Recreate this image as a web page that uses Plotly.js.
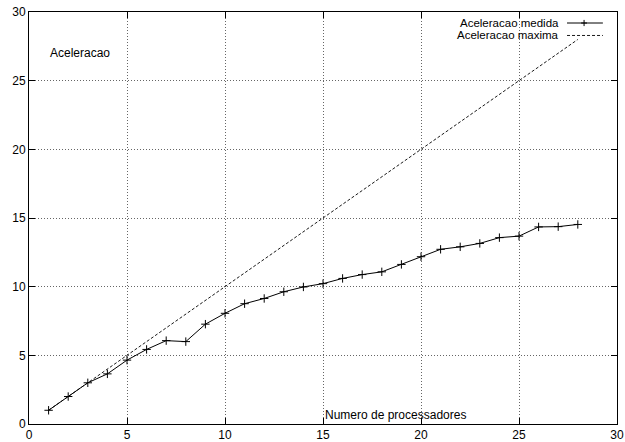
<!DOCTYPE html>
<html>
<head>
<meta charset="utf-8">
<script src="https://cdn.plot.ly/plotly-3.0.1.min.js"></script>
<style>
  html, body { margin: 0; padding: 0; background: #fff; }
  #chart { width: 625px; height: 442px; }
</style>
</head>
<body>
<div id="chart"></div>
<script>
// Speedup measured against number of processors
const processadores = [1, 2, 3, 4, 5, 6, 7, 8, 9, 10, 11, 12, 13, 14, 15, 16, 17, 18, 19, 20, 21, 22, 23, 24, 25, 26, 27, 28];
const aceleracaoMedida = [1.0, 2.0, 3.0, 3.65, 4.65, 5.43, 6.07, 6.0, 7.27, 8.06, 8.76, 9.14, 9.63, 9.98, 10.22, 10.6, 10.88, 11.08, 11.62, 12.18, 12.72, 12.9, 13.15, 13.57, 13.68, 14.35, 14.37, 14.53];
// Ideal (linear) speedup
const procMax = [1, 28];
const aceleracaoMaxima = [1, 28];

const tickVals = [0, 5, 10, 15, 20, 25, 30];

const legendaMedida = 'Aceleracao medida';
const legendaMaxima = 'Aceleracao maxima';
const rotuloY = 'Aceleracao';
const rotuloX = 'Numero de processadores';

const font = { family: 'Liberation Sans, Arial, sans-serif', size: 12, color: '#000' };
const keyFont = { family: 'Liberation Sans, Arial, sans-serif', size: 11.5, color: '#000' };

const traces = [
  {
    x: processadores, y: aceleracaoMedida,
    type: 'scatter', mode: 'lines+markers',
    line: { color: '#000', width: 1 },
    marker: { symbol: 'cross-thin-open', size: 6, color: '#000', line: { color: '#000', width: 1 } },
    showlegend: false, hoverinfo: 'skip'
  },
  {
    x: procMax, y: aceleracaoMaxima,
    type: 'scatter', mode: 'lines',
    line: { color: '#000', width: 0.9, dash: '3px,2px' },
    showlegend: false, hoverinfo: 'skip'
  }
];

const axisCommon = {
  showline: true, linecolor: '#000', linewidth: 1, mirror: 'ticks',
  ticks: 'inside', ticklen: 6, tickcolor: '#000', tickwidth: 1,
  showgrid: true, gridcolor: '#666', griddash: '1px,2px', gridwidth: 1,
  zeroline: false, tickfont: font, fixedrange: true
};

// Key drawn in gnuplot style: text right-aligned, sample to its right
const kx0 = 0.915, kx1 = 0.976, kxm = 0.944;
const ky1 = 0.9733, ky2 = 0.9430;
const shapes = [
  { type: 'line', xref: 'paper', yref: 'paper', x0: kx0, x1: kx1, y0: ky1, y1: ky1, line: { color: '#000', width: 1 } },
  { type: 'line', xref: 'paper', yref: 'paper', x0: kxm - 0.005, x1: kxm + 0.005, y0: ky1, y1: ky1, line: { color: '#000', width: 1 } },
  { type: 'line', xref: 'paper', yref: 'paper', x0: kxm, x1: kxm, y0: ky1 - 0.0075, y1: ky1 + 0.0075, line: { color: '#000', width: 1 } },
  { type: 'line', xref: 'paper', yref: 'paper', x0: kx0, x1: kx1, y0: ky2, y1: ky2, line: { color: '#000', width: 0.9, dash: '3px,2px' } }
];

const annotations = [
  { text: legendaMedida, xref: 'paper', yref: 'paper', x: 0.903, y: ky1, xanchor: 'right', yanchor: 'middle', showarrow: false, font: keyFont, borderpad: 0 },
  { text: legendaMaxima, xref: 'paper', yref: 'paper', x: 0.903, y: ky2, xanchor: 'right', yanchor: 'middle', showarrow: false, font: keyFont, borderpad: 0 },
  { text: rotuloY, xref: 'paper', yref: 'paper', x: 0.032, y: 0.9005, xanchor: 'left', yanchor: 'middle', showarrow: false, font: font },
  { text: rotuloX, xref: 'paper', yref: 'paper', x: 0.5, y: 0.0218, xanchor: 'left', yanchor: 'middle', showarrow: false, font: font }
];

const layout = {
  width: 625, height: 442,
  margin: { l: 29, r: 8, t: 12, b: 18, pad: 0 },
  paper_bgcolor: '#fff', plot_bgcolor: '#fff',
  font: font,
  showlegend: false,
  xaxis: Object.assign({}, axisCommon, { range: [0, 30], tickvals: tickVals, ticktext: tickVals.map(String) }),
  yaxis: Object.assign({}, axisCommon, { range: [0, 30], tickvals: tickVals, ticktext: tickVals.map(String) }),
  shapes: shapes,
  annotations: annotations
};

Plotly.newPlot('chart', traces, layout, { displayModeBar: false, staticPlot: true });
</script>
</body>
</html>
